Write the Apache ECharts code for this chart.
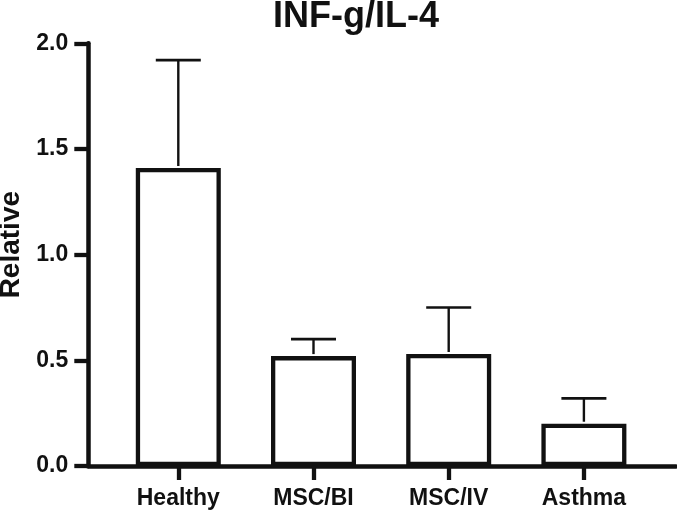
<!DOCTYPE html>
<html>
<head>
<meta charset="utf-8">
<script src="https://cdn.jsdelivr.net/npm/echarts@6/dist/echarts.min.js"></script>
<style>
html,body{margin:0;padding:0;background:#fff;}
#chart{width:677px;height:513px;}
</style>
</head>
<body>
<div id="chart"></div>
<script>
const categories = ['Healthy', 'MSC/BI', 'MSC/IV', 'Asthma'];
const means = [1.41, 0.52, 0.53, 0.20];
const errors = [0.51, 0.08, 0.22, 0.12];
const yTicks = [0.0, 0.5, 1.0, 1.5, 2.0];
const titleText = 'INF-g/IL-4';
const yName = 'Relative';

const FONT = "'Liberation Sans', Arial, sans-serif";
const INK = '#111';

const chart = echarts.init(document.getElementById('chart'), null, {renderer: 'canvas'});

const errData = means.map((m, i) => [i, m, m + errors[i]]);

const option = {
  backgroundColor: '#fff',
  animation: false,
  title: {
    text: titleText,
    left: 273,
    top: -1,
    padding: 0,
    textStyle: {fontFamily: FONT, fontWeight: 'bold', fontSize: 36, color: INK}
  },
  grid: [
    {left: 110.7, right: 25.5, top: 43.3, bottom: 47, containLabel: false, outerBoundsMode: 'none'},
    {left: 88.3, right: 1, top: 43.3, bottom: 47, containLabel: false, outerBoundsMode: 'none'}
  ],
  xAxis: [
    {
      type: 'category',
      gridIndex: 0,
      data: categories,
      boundaryGap: true,
      axisLine: {show: false},
      axisTick: {show: true, alignWithLabel: true, length: 14, lineStyle: {color: INK, width: 4.3}},
      axisLabel: {
        interval: 0,
        margin: 21,
        fontFamily: FONT, fontWeight: 'bold', fontSize: 23, color: INK
      },
      splitLine: {show: false}
    },
    {
      type: 'value',
      gridIndex: 1,
      min: 0, max: 1,
      axisLine: {show: true, lineStyle: {color: INK, width: 4.5}},
      axisTick: {show: false},
      axisLabel: {show: false},
      splitLine: {show: false}
    }
  ],
  yAxis: [
    {
      type: 'value',
      gridIndex: 0,
      min: yTicks[0],
      max: yTicks[yTicks.length - 1],
      interval: 0.5,
      offset: 22.4,
      name: yName,
      nameLocation: 'middle',
      nameGap: 60,
      nameRotate: 90,
      nameTextStyle: {fontFamily: FONT, fontWeight: 'bold', fontSize: 28, color: INK, padding: [0, 0, 0, 20]},
      axisLine: {show: true, lineStyle: {color: INK, width: 4.5}},
      axisTick: {show: true, length: 14, lineStyle: {color: INK, width: 4.3}},
      axisLabel: {
        margin: 20,
        formatter: v => v.toFixed(1),
        fontFamily: FONT, fontWeight: 'bold', fontSize: 23, color: INK
      },
      splitLine: {show: false}
    },
    {
      type: 'value',
      gridIndex: 1,
      min: 0, max: 1,
      show: false
    }
  ],
  series: [
    {
      type: 'bar',
      xAxisIndex: 0,
      yAxisIndex: 0,
      data: means,
      barWidth: 85,
      itemStyle: {color: '#fff', borderColor: INK, borderWidth: 4.3},
      z: 2
    },
    {
      type: 'custom',
      xAxisIndex: 0,
      yAxisIndex: 0,
      data: errData,
      z: 3,
      renderItem: function (params, api) {
        const base = api.coord([api.value(0), api.value(1)]);
        const top = api.coord([api.value(0), api.value(2)]);
        const half = 22.5;
        return {
          type: 'group',
          children: [
            {type: 'line', shape: {x1: base[0], y1: base[1] - 2, x2: top[0], y2: top[1]},
             style: {stroke: INK, lineWidth: 2.4}},
            {type: 'line', shape: {x1: top[0] - half, y1: top[1], x2: top[0] + half, y2: top[1]},
             style: {stroke: INK, lineWidth: 2.7}}
          ]
        };
      }
    }
  ]
};

chart.setOption(option);
</script>
</body>
</html>
